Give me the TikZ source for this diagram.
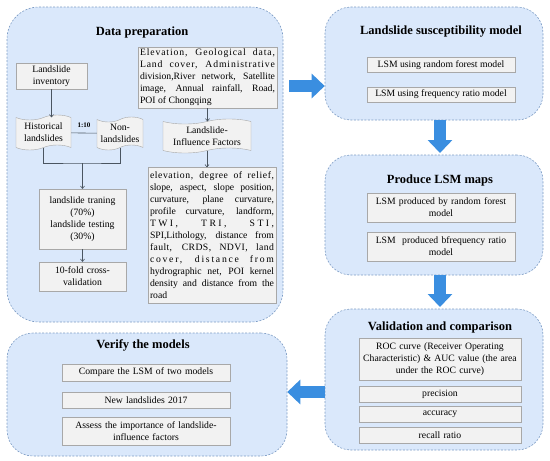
\documentclass[tikz,border=0pt]{standalone}
\usepackage{fontspec}
\setmainfont{Liberation Serif}
\usetikzlibrary{
arrows.meta,
positioning,
shapes.symbols
}
\definecolor{panelfill}{HTML}{DAE8FB}
\definecolor{panelline}{HTML}{7D9CC4}
\definecolor{boxfill}{HTML}{F2F2F2}
\definecolor{boxline}{HTML}{A8A8A8}
\definecolor{linkcol}{HTML}{4A5560}
\definecolor{bigblue}{HTML}{3A8EE0}
\newcommand{\tracked}[2]{{\addfontfeature{LetterSpace=#1}#2}}
\begin{document}
\begin{tikzpicture}[
      x=1pt,y=-1pt,
      panel/.style={
        draw=panelline,
        fill=panelfill,
        line width=0.6pt,
        dash pattern=on 2pt off 1.5pt,
        rounded corners=26pt
      },
      heading/.style={
        font=\fontsize{12.5}{14}\selectfont\bfseries
      },
      box/.style={
        draw=boxline,
        fill=boxfill,
        align=center,
        inner sep=2pt,
        font=\fontsize{9.7}{12}\selectfont
      },
      doc/.style={
        tape,
        draw=boxline,
        fill=boxfill,
        align=center,
        inner sep=1pt,
        font=\fontsize{9.7}{12}\selectfont
      },
      arrow/.style={
        -{To[length=3pt,width=4.5pt]},
        draw=linkcol,
        line width=0.6pt
      },
      link/.style={
        draw=linkcol,
        line width=0.6pt
      },
      bigarrow/.style={
        draw=bigblue,
        line width=12pt,
        -{Triangle[length=13pt,width=24pt]}
      }
    ]
    \useasboundingbox (0,0) rectangle (550,461);

    % panels
    \node[panel,minimum width=276pt,minimum height=315pt,rounded corners=32pt] (prep) at (145,164.5) {};
    \node[panel,minimum width=218pt,minimum height=113pt] (lsm) at (434,63.5) {};
    \node[panel,minimum width=218pt,minimum height=120pt] (maps) at (434,215) {};
    \node[panel,minimum width=218pt,minimum height=141pt] (valid) at (434,379.5) {};
    \node[panel,minimum width=280pt,minimum height=123pt] (verify) at (147,394.5) {};

    % data preparation
    \node[heading] (prep-title) at (142,32) {Data preparation};
    \node[box,text width=67pt,minimum height=26pt] (inventory) at (51.5,76) {Landslide\\inventory};
    \node[doc,minimum width=55pt,minimum height=35pt] (hist) at (43.5,132.5) {Historical\\landslides};
    \node[doc,minimum width=46pt,minimum height=33pt] (non) at (120,133.5) {Non-\\landslides};
    \node[box,text width=83pt,minimum height=60pt] (train) at (82.5,219) {landslide traning\\(70\%)\\landslide testing\\(30\%)};
    \node[box,text width=83pt,minimum height=29pt] (cv) at (82.5,276.5) {10-fold cross-\\validation};
    \coordinate (join) at (82.5,163);

    \node[box,text width=135pt,align=justify,minimum height=61pt] (sources) at (207.5,77.5) {%
      \tracked{9}{Elevation, Geological data,}\linebreak
      \tracked{9}{Land cover, Administrative}\linebreak
      division,River network, Satellite\linebreak
      image, Annual rainfall, Road,\linebreak
      POI of Chongqing};
    \node[doc,minimum width=88pt,minimum height=34pt] (factors) at (207,136) {Landslide-\\Influence Factors};
    \node[box,text width=124pt,align=justify,minimum height=136pt] (factorlist) at (212,235.5) {%
      \tracked{6}{elevation, degree of relief,}\linebreak
      slope, aspect, slope position,\linebreak
      curvature, plane curvature,\linebreak
      profile curvature, landform,\linebreak
      \tracked{25}{TWI, TRI, STI,}\linebreak
      SPI,Lithology, distance from\linebreak
      \tracked{4}{fault, CRDS, NDVI, land}\linebreak
      \tracked{18}{cover, distance from}\linebreak
      hydrographic net, POI kernel\linebreak
      density and distance from the\linebreak
      road};

    \draw[arrow] (inventory.south) -- (inventory.south |- hist.north);
    \draw[link] (hist) -- node[above,yshift=2pt,font=\fontsize{7}{8}\selectfont\bfseries] {1:10} (non);
    \draw[link] (hist.south) |- (join) -| (non.south);
    \draw[arrow] (join) -- (train.north);
    \draw[arrow] (train) -- (cv);
    \draw[arrow] (sources) -- (sources.south |- factors.north);
    \draw[arrow] (factors.south) -- (factors.south |- factorlist.north);

    % landslide susceptibility model
    \node[heading] (lsm-title) at (441,32) {Landslide susceptibility model};
    \node[box,minimum width=148pt,minimum height=15pt] (rf) at (441,65) {LSM using random forest model};
    \node[box,minimum width=148pt,minimum height=15pt] (fr) at (441,94.5) {LSM using frequency ratio model};

    % produce LSM maps
    \node[heading] (maps-title) at (440,180) {Produce LSM maps};
    \node[box,text width=144pt,minimum height=29pt] (maprf) at (441,207.5) {LSM produced by random forest\\model};
    \node[box,text width=144pt,minimum height=29pt] (mapfr) at (441,246.5) {LSM~ produced bfrequency ratio\\model};

    % validation and comparison
    \node[heading] (valid-title) at (440,327) {Validation and comparison};
    \node[box,text width=158pt,minimum height=42pt] (roc) at (440,359) {ROC curve (Receiver Operating\\Characteristic) \& AUC value (the area\\under the ROC curve)};
    \node[box,text width=158pt,minimum height=16pt] (prec) at (440,394) {precision};
    \node[box,text width=158pt,minimum height=16pt] (acc) at (440,414) {accuracy};
    \node[box,text width=158pt,minimum height=16pt] (recall) at (440,435) {recall ratio};

    % verify the models
    \node[heading] (verify-title) at (143,345) {Verify the models};
    \node[box,text width=164pt,minimum height=17pt] (compare) at (146,372.5) {Compare the LSM of two models};
    \node[box,text width=164pt,minimum height=16pt] (newls) at (146,400) {New landslides 2017};
    \node[box,text width=164pt,minimum height=28pt] (assess) at (146,431) {Assess the importance of landslide-\\influence factors};

    % flow between panels
    \coordinate (start1) at (289,86);
    \draw[bigarrow] (start1) -- (start1 -| lsm.west);
    \draw[bigarrow] (440,120) -- (440,153);
    \draw[bigarrow] (440,275) -- (440,307);
    \draw[bigarrow] (valid.west |- 0,392) -- (verify.east |- 0,392);

  \end{tikzpicture}
\end{document}
